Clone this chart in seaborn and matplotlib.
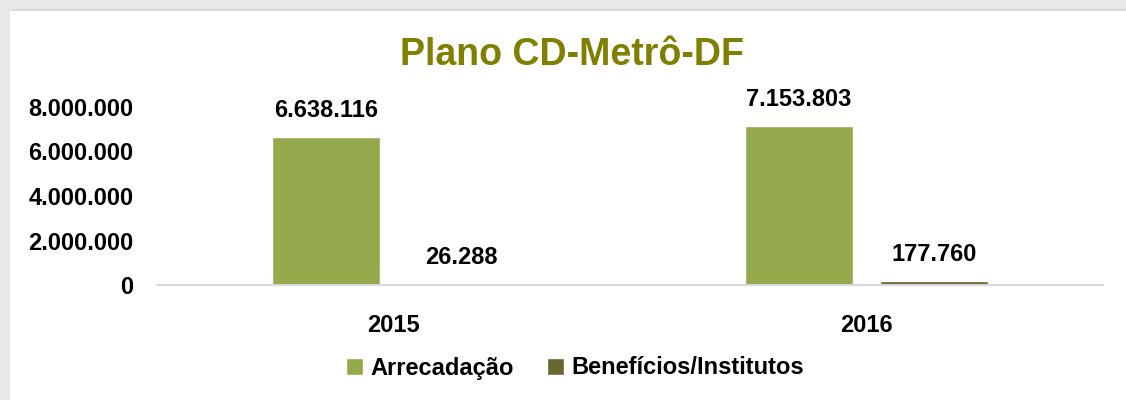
import matplotlib
matplotlib.use("Agg")
import matplotlib.pyplot as plt
from matplotlib.patches import Rectangle
import seaborn as sns
import pandas as pd

years = ["2015", "2016"]
series = ["Arrecadação", "Benefícios/Institutos"]
arrecadacao = [6638116, 7153803]
beneficios = [26288, 177760]
yticks = [0, 2000000, 4000000, 6000000, 8000000]
colors = ["#94A94C", "#67672F"]

df = pd.DataFrame({
    "year": years * 2,
    "series": [series[0]] * 2 + [series[1]] * 2,
    "value": arrecadacao + beneficios,
})

def fmt(v):
    return f"{int(round(v)):,}".replace(",", ".")

sns.set_style("white")
plt.rcParams["font.family"] = ["Liberation Sans", "DejaVu Sans"]
plt.rcParams["font.weight"] = "bold"
plt.rcParams["text.color"] = "#000000"
plt.rcParams["xtick.color"] = "#000000"
plt.rcParams["ytick.color"] = "#000000"
plt.rcParams["xtick.labelcolor"] = "#000000"
plt.rcParams["ytick.labelcolor"] = "#000000"

fig = plt.figure(figsize=(11.26, 4.0), dpi=100)
fig.patch.set_facecolor("white")
ax = fig.add_axes([157 / 1126, 1 - 285 / 400, (1103 - 157) / 1126, (285 - 107) / 400])

sns.barplot(data=df, x="year", y="value", hue="series", hue_order=series,
            palette=colors, width=0.571, gap=0.207, errorbar=None,
            saturation=1, ax=ax)

ax.set_xlim(-0.5, 1.5)
ax.set_ylim(0, 8000000)
ax.set_yticks(yticks)
ax.set_yticklabels([fmt(v) for v in yticks])
ax.set_xlabel("")
ax.set_ylabel("")
ax.tick_params(axis="y", length=0, pad=17, labelsize=17, labelcolor="#000000")
ax.tick_params(axis="x", length=0, pad=21, labelsize=17, labelcolor="#000000")
for lab in ax.get_xticklabels() + ax.get_yticklabels():
    lab.set_fontweight("bold")
for s in ["top", "right", "left"]:
    ax.spines[s].set_visible(False)
ax.spines["bottom"].set_color("#d9d9d9")
ax.spines["bottom"].set_linewidth(1.5)
ax.grid(False)

for cont in ax.containers:
    ax.bar_label(cont, labels=[fmt(v) for v in cont.datavalues], padding=11,
                 fontsize=17, fontweight="bold", color="#000000")

handles, labels = ax.get_legend_handles_labels()
if ax.get_legend() is not None:
    ax.get_legend().remove()
leg = fig.legend(handles, labels, loc="center", bbox_to_anchor=(575 / 1126, 1 - 368 / 400),
                 ncol=2, frameon=False, handlelength=0.72, handleheight=0.72,
                 handletextpad=0.3, columnspacing=1.4, prop={"weight": "bold", "size": 17})
for t in leg.get_texts():
    t.set_color("#000000")

fig.text(572 / 1126, 1 - 55 / 400, "Plano CD-Metrô-DF", ha="center", va="center",
         fontsize=27, fontweight="bold", color="#7F7F00")

# grey window border (top and left)
fig.patches.append(Rectangle((0, 1 - 10 / 400), 1, 10 / 400, transform=fig.transFigure,
                             facecolor="#e8e8e8", edgecolor="none", zorder=-1))
fig.patches.append(Rectangle((0, 1 - 11 / 400), 1, 1.5 / 400, transform=fig.transFigure,
                             facecolor="#dadada", edgecolor="none", zorder=-1))
fig.patches.append(Rectangle((0, 0), 10 / 1126, 1, transform=fig.transFigure,
                             facecolor="#e8e8e8", edgecolor="none", zorder=-1))

fig.savefig("out.png", dpi=100, facecolor="white")
